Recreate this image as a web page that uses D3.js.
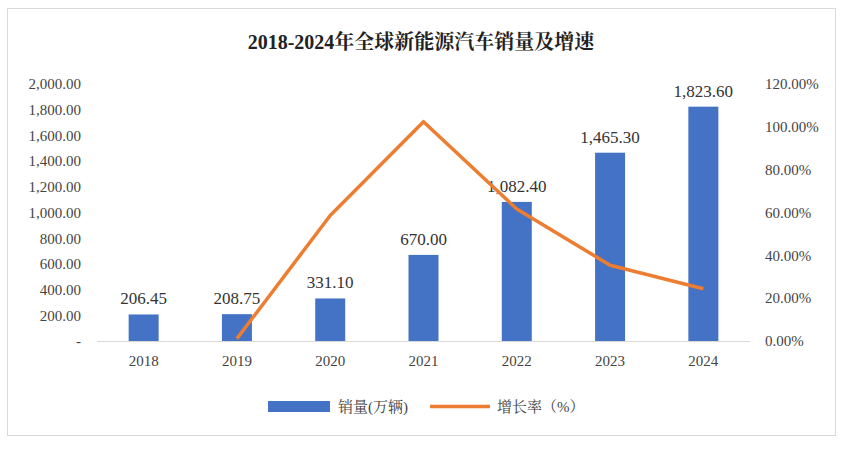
<!DOCTYPE html>
<html><head><meta charset="utf-8">
<script src="https://cdn.jsdelivr.net/npm/d3@7"></script>
<style>body{margin:0;background:#fff}svg{display:block}</style>
</head><body><svg id="c" width="843" height="463"></svg>
<script>
const years=["2018","2019","2020","2021","2022","2023","2024"];
const sales=[206.45,208.75,331.10,670.00,1082.40,1465.30,1823.60];
const growth=[null,1.1,58.6,102.4,61.6,35.4,24.4];
const leftTicks=[0,200,400,600,800,1000,1200,1400,1600,1800,2000];
const rightTicks=[0,20,40,60,80,100,120];
const title="2018-2024年全球新能源汽车销量及增速";
const legendNames=["销量(万辆)","增长率（%）"];

const svg=d3.select("#c");
const serif="'Liberation Serif','Noto Serif CJK SC','Noto Sans CJK SC',serif";
svg.append("rect").attr("x",7.5).attr("y",8.5).attr("width",828).attr("height",427).attr("fill","#fff").attr("stroke","#d9d9d9");
svg.append("text").attr("x",421).attr("y",49).attr("text-anchor","middle").attr("font-family",serif).attr("font-weight","bold").attr("font-size",20).attr("fill","#222").text(title);

const x=d3.scaleBand().domain(years).range([97,750]);
const y=d3.scaleLinear().domain([0,2000]).range([341,84]);
const y2=d3.scaleLinear().domain([0,120]).range([341,84]);
const fmt=d3.format(",.2f");

svg.append("line").attr("x1",97).attr("x2",750).attr("y1",341.5).attr("y2",341.5).attr("stroke","#d9d9d9");

const gl=svg.append("g").attr("transform","translate(84,0)").call(d3.axisLeft(y).tickValues(leftTicks).tickSize(0).tickFormat(d=>d===0?"-":fmt(d)));
const gr=svg.append("g").attr("transform","translate(762,0)").call(d3.axisRight(y2).tickValues(rightTicks).tickSize(0).tickFormat(d=>d.toFixed(2)+"%"));
const gx=svg.append("g").attr("transform","translate(0,352)").call(d3.axisBottom(x).tickSize(0));
[gl,gr,gx].forEach(g=>{g.select(".domain").remove();g.selectAll("text").attr("font-family",serif).attr("font-size",15).attr("fill","#444");});
gl.selectAll("text").attr("dx",0);gr.selectAll("text").attr("dx",0);

const bw=30;
svg.selectAll(".bar").data(sales).join("rect").attr("x",(d,i)=>x(years[i])+x.bandwidth()/2-bw/2).attr("y",d=>y(d)).attr("width",bw).attr("height",d=>341-y(d)).attr("fill","#4472C4");
svg.selectAll(".lbl").data(sales).join("text").attr("x",(d,i)=>x(years[i])+x.bandwidth()/2).attr("y",d=>y(d)-10).attr("text-anchor","middle").attr("font-family",serif).attr("font-size",17).attr("fill","#333").text(d=>fmt(d));

const pts=growth.map((g,i)=>[g,i]).filter(p=>p[0]!==null);
svg.append("path").datum(pts).attr("fill","none").attr("stroke","#ED7D31").attr("stroke-width",3.5).attr("stroke-linejoin","round")
 .attr("d",d3.line().x(p=>x(years[p[1]])+x.bandwidth()/2).y(p=>y2(p[0])));

svg.append("rect").attr("x",268).attr("y",401).attr("width",62).attr("height",11).attr("fill","#4472C4");
svg.append("text").attr("x",338).attr("y",412).attr("font-family",serif).attr("font-size",15).attr("fill","#444").text(legendNames[0]);
svg.append("line").attr("x1",430).attr("x2",490).attr("y1",406.5).attr("y2",406.5).attr("stroke","#ED7D31").attr("stroke-width",3.5);
svg.append("text").attr("x",497).attr("y",412).attr("font-family",serif).attr("font-size",15).attr("fill","#444").text(legendNames[1]);
</script></body></html>
